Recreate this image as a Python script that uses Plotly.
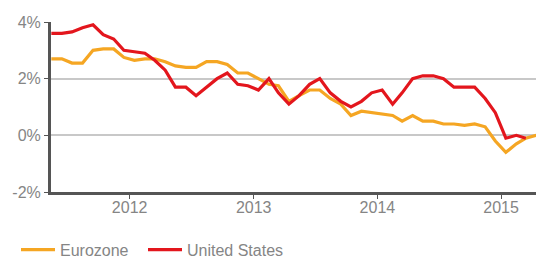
import plotly.graph_objects as go
import pandas as pd

months = [pd.Timestamp(y, m, 15) for y in range(2011, 2016) for m in range(1, 13)
          if pd.Timestamp(2011, 5, 1) <= pd.Timestamp(y, m, 1) <= pd.Timestamp(2015, 4, 1)]

eurozone = [2.7, 2.7, 2.55, 2.55, 3.0, 3.05, 3.05, 2.75,
            2.65, 2.7, 2.7, 2.6, 2.45, 2.4, 2.4, 2.6, 2.6, 2.5, 2.2, 2.2,
            2.0, 1.8, 1.75, 1.2, 1.4, 1.6, 1.6, 1.3, 1.1, 0.7, 0.85, 0.8,
            0.75, 0.7, 0.5, 0.7, 0.5, 0.5, 0.4, 0.4, 0.35, 0.4, 0.3, -0.2,
            -0.6, -0.3, -0.1, 0.0]
united_states = [3.6, 3.6, 3.65, 3.8, 3.9, 3.55, 3.4, 3.0,
                 2.95, 2.9, 2.65, 2.3, 1.7, 1.7, 1.4, 1.7, 2.0, 2.2, 1.8, 1.75,
                 1.6, 2.0, 1.5, 1.1, 1.4, 1.8, 2.0, 1.5, 1.2, 1.0, 1.2, 1.5,
                 1.6, 1.1, 1.5, 2.0, 2.1, 2.1, 2.0, 1.7, 1.7, 1.7, 1.3, 0.8,
                 -0.1, 0.0, -0.1]

y_ticks = [-2, 0, 2, 4]
y_tick_labels = ["-2%", "0%", "2%", "4%"]

fig = go.Figure()
fig.add_trace(go.Scatter(x=months, y=eurozone, mode="lines", name="Eurozone",
                         line=dict(color="#F5A623", width=3.2), legend="legend"))
fig.add_trace(go.Scatter(x=months[:len(united_states)], y=united_states, mode="lines",
                         name="United States", line=dict(color="#E3161D", width=3.2),
                         legend="legend2"))

legend_style = dict(orientation="h", xref="container", y=0.032, yref="container",
                    yanchor="middle", xanchor="left", font=dict(size=16, color="#858585"),
                    itemwidth=34, bgcolor="rgba(0,0,0,0)")

fig.update_layout(
    width=536, height=258,
    margin=dict(l=51, r=0, t=22, b=66, autoexpand=False),
    paper_bgcolor="white", plot_bgcolor="white",
    font=dict(family="Liberation Sans, Arial, sans-serif", size=16, color="#858585"),
    showlegend=True,
    legend=dict(x=16 / 536, **legend_style),
    legend2=dict(x=143 / 536, **legend_style),
    xaxis=dict(range=["2011-05-14", "2015-04-14"], dtick="M12", tick0="2012-01-01",
               tickformat="%Y", showgrid=False, showline=True, linecolor="#555555",
               linewidth=3, ticks="outside", ticklen=4, tickcolor="#555555",
               tickwidth=1, zeroline=False, automargin=False, ticklabelstandoff=-5),
    yaxis=dict(range=[-2, 4], tickvals=y_ticks, ticktext=y_tick_labels,
               showgrid=True, gridcolor="#C8C8C8", gridwidth=1.5, showline=True,
               linecolor="#555555", linewidth=3, ticks="outside", ticklen=4,
               tickcolor="#555555", tickwidth=1, zeroline=False, automargin=False),
)

fig.write_html("out.html", config={"displayModeBar": False},
               post_script="document.body.style.margin='0px';document.body.style.overflow='hidden';")
